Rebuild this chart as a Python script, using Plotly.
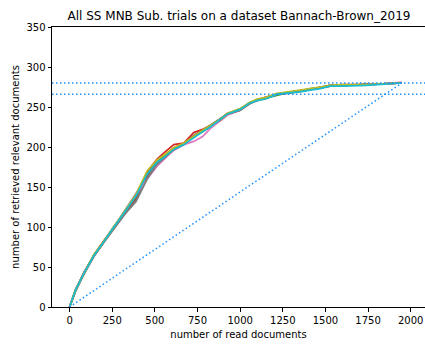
import plotly.graph_objects as go

# shared x grid (number of read documents)
read_docs = [0, 35, 84, 142, 201, 260, 320, 390, 455, 513, 560, 611, 670, 728, 780, 825,
             884, 923, 1001, 1050, 1099, 1150, 1216, 1280, 1352, 1410, 1470, 1528, 1600,
             1743, 1850, 1948]

trial_1 = [0, 20, 43, 64, 82, 99, 118, 139, 168, 180, 188, 197, 203, 214, 221, 227, 235, 241, 246, 255, 259, 262, 266, 268, 270, 272, 275, 277, 277, 278, 279, 280]
trial_2 = [0, 21, 41, 65, 83, 100, 117, 137, 165, 182, 190, 199, 205, 213, 219, 226, 233, 240, 247, 254, 258, 261, 266, 268, 271, 272, 274, 276, 277, 278, 279, 280]
trial_3 = [0, 22, 42, 65, 82, 101, 117, 140, 167, 181, 189, 197, 204, 212, 220, 225, 234, 241, 248, 253, 259, 261, 265, 268, 270, 273, 274, 277, 277, 278, 279, 280]
trial_4 = [0, 21, 43, 64, 82, 99, 118, 139, 169, 185, 194, 203, 205, 218, 222, 227, 235, 242, 247, 254, 259, 262, 266, 268, 270, 272, 274, 277, 278, 278, 279, 280]
trial_5 = [0, 21, 42, 64, 81, 100, 119, 142, 165, 180, 187, 196, 203, 213, 220, 226, 234, 241, 247, 254, 258, 261, 266, 268, 270, 272, 274, 277, 277, 278, 279, 280]
trial_6 = [0, 20, 41, 63, 81, 98, 116, 135, 163, 179, 188, 197, 204, 214, 221, 226, 233, 240, 246, 253, 259, 261, 266, 267, 270, 272, 274, 276, 277, 278, 279, 280]
trial_7 = [0, 21, 42, 64, 82, 100, 118, 140, 160, 176, 185, 196, 203, 207, 213, 223, 233, 240, 247, 254, 259, 261, 266, 268, 270, 272, 274, 277, 277, 278, 279, 281]
trial_8 = [0, 20, 41, 63, 81, 98, 115, 132, 160, 178, 187, 197, 203, 213, 220, 226, 234, 241, 247, 254, 259, 261, 266, 268, 270, 272, 274, 277, 277, 278, 279, 280]
trial_9 = [0, 21, 42, 65, 82, 100, 118, 141, 170, 184, 191, 199, 205, 214, 221, 227, 235, 242, 248, 255, 260, 262, 267, 269, 271, 273, 275, 277, 278, 278, 279, 280]
trial_10 = [0, 21, 42, 64, 82, 100, 117, 139, 166, 181, 188, 197, 203, 212, 219, 225, 234, 241, 247, 254, 258, 260, 266, 267, 269, 271, 273, 276, 276, 277, 279, 280]

trials = [trial_1, trial_2, trial_3, trial_4, trial_5, trial_6, trial_7, trial_8, trial_9, trial_10]
colors = ["#1f77b4", "#ff7f0e", "#2ca02c", "#d62728", "#9467bd",
          "#8c564b", "#e377c2", "#7f7f7f", "#bcbd22", "#17becf"]

total_relevant = 280
target_relevant = 266
total_docs = 1948
random_x = [0, total_docs]
random_y = [0, total_relevant]

x_ticks = [0, 250, 500, 750, 1000, 1250, 1500, 1750, 2000]
y_ticks = [0, 50, 100, 150, 200, 250, 300, 350]
x_range = [-103, 2084]

dot_color = "#1e90ff"
dot_dash = "1.5px,2.5px"

fig = go.Figure()
for i, (ys, c) in enumerate(zip(trials, colors)):
    fig.add_trace(go.Scatter(x=read_docs, y=ys, mode="lines",
                             line=dict(color=c, width=1.7), name=f"trial {i+1}",
                             showlegend=False))

fig.add_trace(go.Scatter(x=x_range, y=[total_relevant, total_relevant], mode="lines",
                         line=dict(color=dot_color, width=1.5, dash=dot_dash), showlegend=False))
fig.add_trace(go.Scatter(x=x_range, y=[target_relevant, target_relevant], mode="lines",
                         line=dict(color=dot_color, width=1.5, dash=dot_dash), showlegend=False))
fig.add_trace(go.Scatter(x=random_x, y=random_y, mode="lines",
                         line=dict(color=dot_color, width=1.5, dash=dot_dash), showlegend=False))

font = "DejaVu Sans"
fig.update_layout(
    width=425, height=345,
    margin=dict(l=52, r=0, t=27, b=38),
    paper_bgcolor="white", plot_bgcolor="white",
    font=dict(family=font, size=10, color="black"),
    title=dict(text="All SS MNB Sub. trials on a dataset Bannach-Brown_2019",
               x=239/425, xanchor="center", xref="container",
               y=1-16/345, yanchor="middle", yref="container",
               font=dict(family=font, size=12, color="black")),
)
fig.update_xaxes(range=x_range, tickvals=x_ticks, ticktext=[str(v) for v in x_ticks],
                 showgrid=False, zeroline=False, showline=True, linecolor="black",
                 linewidth=1, mirror=True, ticks="outside", ticklen=3.5, tickcolor="black",
                 title=dict(text="number of read documents", standoff=6,
                            font=dict(family=font, size=10)))
fig.update_yaxes(range=[0, 350], tickvals=y_ticks, ticktext=[str(v) for v in y_ticks],
                 showgrid=False, zeroline=False, showline=True, linecolor="black",
                 linewidth=1, ticks="outside", ticklen=3.5, tickcolor="black",
                 title=dict(text="number of retrieved relevant documents", standoff=4,
                            font=dict(family=font, size=10)))

fig.write_html("out.html")
